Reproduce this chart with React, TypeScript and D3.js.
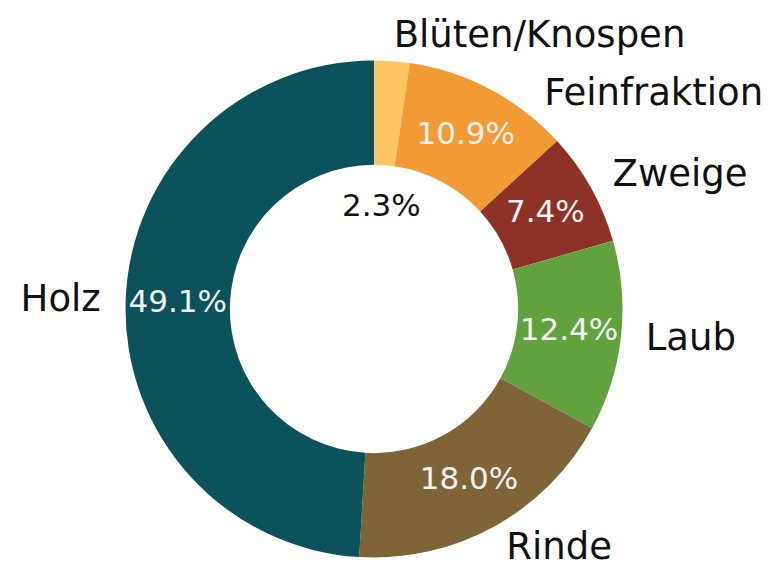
import React from "react";
import * as d3 from "d3";

const categories = ["Blüten/Knospen", "Feinfraktion", "Zweige", "Laub", "Rinde", "Holz"];
const values = [2.3, 10.9, 7.4, 12.4, 18.0, 49.1];
const colors = ["#fdc662", "#f29b34", "#8e3228", "#62a23e", "#7f6438", "#0b525b"];
const pctColors = ["#111111", "#f2f2f2", "#f2f2f2", "#f2f2f2", "#f2f2f2", "#f2f2f2"];

const W = 770;
const H = 562;
const cx = 374;
const cy = 309;
const R = 248.5;
const innerFrac = 0.58;
const pctDist = 0.79;
const labelDist = 1.1;
// per-label layout tweaks (label angle override in degrees, pct radius override)
const labelAngleOverride: Record<string, number> = { Feinfraktion: 38.5 };
const pctDistOverride: Record<string, number> = { "Blüten/Knospen": 0.41 };

export default function App() {
  const pie = d3
    .pie<number>()
    .sort(null)
    .value((d) => d)
    .startAngle(0)
    .endAngle(2 * Math.PI);
  const arcs = pie(values);
  const arcGen = d3
    .arc<d3.PieArcDatum<number>>()
    .innerRadius(R * innerFrac)
    .outerRadius(R);

  const total = d3.sum(values);

  return (
    <svg
      width={W}
      height={H}
      style={{ position: "absolute", left: 0, top: 0, display: "block", background: "#fff" }}
      fontFamily="DejaVu Sans, sans-serif"
    >
      <g transform={`translate(${cx},${cy})`}>
        {arcs.map((a, i) => (
          <path key={categories[i]} d={arcGen(a) || ""} fill={colors[i]} />
        ))}
        {arcs.map((a, i) => {
          const cat = categories[i];
          const mid = (a.startAngle + a.endAngle) / 2;
          const la = labelAngleOverride[cat] !== undefined ? (labelAngleOverride[cat] * Math.PI) / 180 : mid;
          const lx = R * labelDist * Math.sin(la);
          const ly = -R * labelDist * Math.cos(la);
          const pd = pctDistOverride[cat] !== undefined ? pctDistOverride[cat] : pctDist;
          const px = R * pd * Math.sin(mid);
          const py = -R * pd * Math.cos(mid);
          const pct = ((values[i] / total) * 100).toFixed(1) + "%";
          return (
            <g key={"t" + cat}>
              <text
                x={lx}
                y={ly}
                dy="0.28em"
                fontSize={37}
                fill="#111"
                textAnchor={lx >= 0 ? "start" : "end"}
              >
                {cat}
              </text>
              <text x={px} y={py} dy="0.28em" fontSize={31} fill={pctColors[i]} textAnchor="middle">
                {pct}
              </text>
            </g>
          );
        })}
      </g>
    </svg>
  );
}
